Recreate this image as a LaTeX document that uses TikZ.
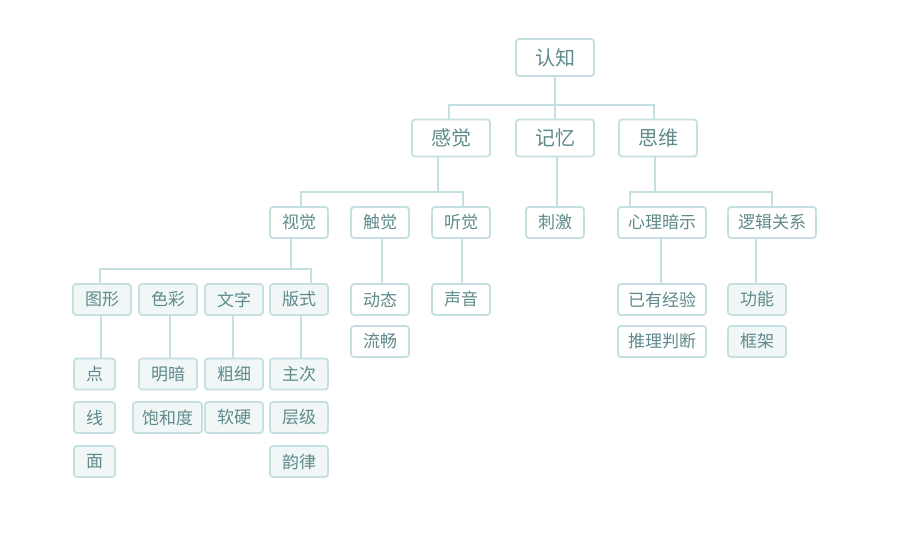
\documentclass[tikz,border=0pt]{standalone}
\usepackage{fontspec}
\setmainfont{Noto Sans CJK SC}
\definecolor{bd}{HTML}{C6DFE0}
\definecolor{tx}{HTML}{5F8A8B}
\definecolor{lf}{HTML}{F1F7F7}
\begin{document}
\begin{tikzpicture}[x=1pt,y=-1pt,
  box/.style={draw=bd,line width=1.8pt,rounded corners=3pt,fill=white,text=tx,inner sep=0pt,anchor=center},
  big/.style={box,minimum width=78pt,minimum height=37pt,font=\fontsize{20}{20}\selectfont},
  sm/.style={box,minimum height=31pt,font=\fontsize{17}{17}\selectfont},
  w58/.style={sm,minimum width=58pt},
  w41/.style={sm,minimum width=41pt},
  w69/.style={sm,minimum width=69pt},
  w88/.style={sm,minimum width=88pt},
  leaf/.style={fill=lf},
  ln/.style={draw=bd,line width=2.6pt}]
\useasboundingbox (0,0) rectangle (900,550);
% level 0/1
\node[big] (rz) at (555,57.5) {认知};
\node[big] (gj) at (451,138) {感觉};
\node[big] (jy) at (555,138) {记忆};
\node[big] (sw) at (658,138) {思维};
% level 2
\node[w58] (sj) at (299,222.5) {视觉};
\node[w58] (cj) at (380,222.5) {触觉};
\node[w58] (tj) at (461,222.5) {听觉};
\node[w58] (cjj) at (555,222.5) {刺激};
\node[w88] (xl) at (662,222.5) {心理暗示};
\node[w88] (lj) at (772,222.5) {逻辑关系};
% level 3
\node[w58,leaf] (tx) at (102,299.5) {图形};
\node[w58,leaf] (sc) at (168,299.5) {色彩};
\node[w58,leaf] (wz) at (234,299.5) {文字};
\node[w58,leaf] (bs) at (299,299.5) {版式};
\node[w58] (dt) at (380,299.5) {动态};
\node[w58] (lc) at (380,341.5) {流畅};
\node[w58] (sy) at (461,299.5) {声音};
\node[w88] (yy) at (662,299.5) {已有经验};
\node[w88] (tl) at (662,341.5) {推理判断};
\node[w58,leaf] (gn) at (757,299.5) {功能};
\node[w58,leaf] (kj) at (757,341.5) {框架};
% level 4
\node[w41,leaf] (dian) at (94.5,374) {点};
\node[w41,leaf] (xian) at (94.5,417.5) {线};
\node[w41,leaf] (mian) at (94.5,461.5) {面};
\node[w58,leaf] (ma) at (168,374) {明暗};
\node[w69,leaf] (bhd) at (167.5,417.5) {饱和度};
\node[w58,leaf] (cx) at (234,374) {粗细};
\node[w58,leaf] (ry) at (234,417.5) {软硬};
\node[w58,leaf] (zc) at (299,374) {主次};
\node[w58,leaf] (cjl) at (299,417.5) {层级};
\node[w58,leaf] (yl) at (299,461.5) {韵律};
% connectors
\begin{scope}[on background layer/.style={}]
\draw[ln] (rz.south) -- ++(0,28.5) coordinate (a1);
\draw[ln] (gj.north -| 449,0) -- (449,105) -- (654,105) -- (sw.north -| 654,0);
\draw[ln] (jy.north) -- (jy.north |- a1);
\draw[ln] (gj.south -| 438,0) -- (438,192) coordinate (b1);
\draw[ln] (sj.north -| 301,0) -- (301,192) -- (463,192) -- (tj.north -| 463,0);
\draw[ln] (sw.south -| 655,0) -- (655,192);
\draw[ln] (xl.north -| 630,0) -- (630,192) -- (772,192) -- (lj.north -| 772,0);
\draw[ln] (jy.south -| 557,0) -- (cjj.north -| 557,0);
\draw[ln] (sj.south -| 291,0) -- (291,269);
\draw[ln] (tx.north -| 100,0) -- (100,269) -- (311,269) -- (bs.north -| 311,0);
\draw[ln] (cj.south -| 382,0) -- (dt.north -| 382,0);
\draw[ln] (tj.south -| 462,0) -- (sy.north -| 462,0);
\draw[ln] (xl.south -| 661,0) -- (yy.north -| 661,0);
\draw[ln] (lj.south -| 756,0) -- (gn.north -| 756,0);
\draw[ln] (tx.south -| 101,0) -- (dian.north -| 101,0);
\draw[ln] (sc.south -| 170,0) -- (ma.north -| 170,0);
\draw[ln] (wz.south -| 233,0) -- (cx.north -| 233,0);
\draw[ln] (bs.south -| 301,0) -- (zc.north -| 301,0);
\end{scope}
\end{tikzpicture}
\end{document}
